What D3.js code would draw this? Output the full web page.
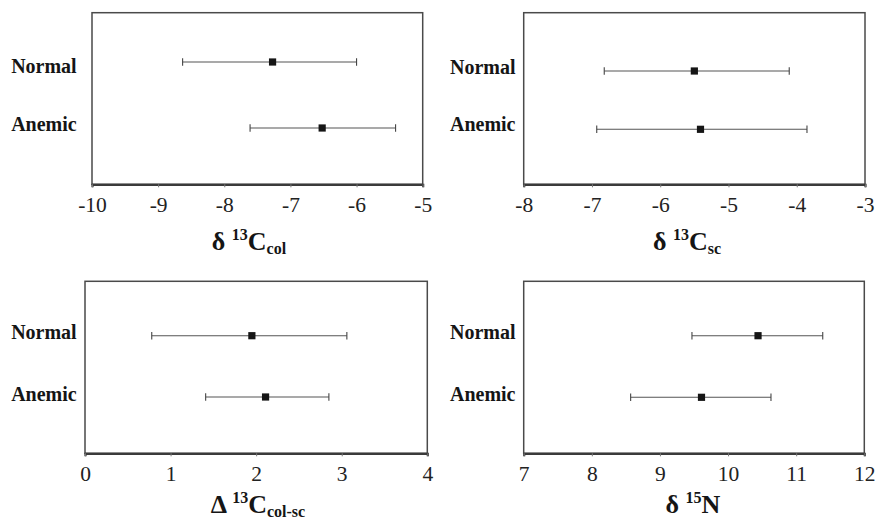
<!DOCTYPE html>
<html>
<head>
<meta charset="utf-8">
<script src="https://cdn.jsdelivr.net/npm/d3@7"></script>
<style>
	body { margin: 0; background: #fff; }
</style>
</head>
<body>
<div id="chart"></div>
<script>
(function () {

	'use strict';

	var serif = 'Liberation Serif';

	// data: mean and range for each group
	var categories = ['Normal', 'Anemic'];

	var col13Mean = [-7.27, -6.52];
	var col13Low = [-8.63, -7.61];
	var col13High = [-6.00, -5.41];
	var col13Ticks = [-10, -9, -8, -7, -6, -5];

	var sc13Mean = [-5.50, -5.41];
	var sc13Low = [-6.82, -6.93];
	var sc13High = [-4.11, -3.85];
	var sc13Ticks = [-8, -7, -6, -5, -4, -3];

	var diffMean = [1.95, 2.11];
	var diffLow = [0.78, 1.41];
	var diffHigh = [3.06, 2.85];
	var diffTicks = [0, 1, 2, 3, 4];

	var n15Mean = [10.44, 9.61];
	var n15Low = [9.47, 8.57];
	var n15High = [11.39, 10.63];
	var n15Ticks = [7, 8, 9, 10, 11, 12];

	// panel layout (pixels)
	var panels = [
		{ mean: col13Mean, low: col13Low, high: col13High, ticks: col13Ticks,
			left: 92, right: 422.7, top: 12.7, bottom: 184.3, marks: [62, 128], labels: [73.3, 130.7],
			labelX: 76.7, titleX: 249, titleY: 250, sym: 'δ', iso: '13', el: 'C', sub: 'col' },
		{ mean: sc13Mean, low: sc13Low, high: sc13High, ticks: sc13Ticks,
			left: 523.7, right: 865, top: 12.7, bottom: 184.3, marks: [71, 129.3], labels: [74, 131.3],
			labelX: 515.5, titleX: 687, titleY: 250, sym: 'δ', iso: '13', el: 'C', sub: 'sc' },
		{ mean: diffMean, low: diffLow, high: diffHigh, ticks: diffTicks,
			left: 85, right: 427.3, top: 281.3, bottom: 453.3, marks: [335.7, 397], labels: [339.3, 400.7],
			labelX: 76.7, titleX: 258, titleY: 513, sym: 'Δ', iso: '13', el: 'C', sub: 'col-sc' },
		{ mean: n15Mean, low: n15Low, high: n15High, ticks: n15Ticks,
			left: 523.7, right: 864.3, top: 281.3, bottom: 453.3, marks: [335.7, 397.3], labels: [339.3, 400.7],
			labelX: 515.5, titleX: 693, titleY: 513, sym: 'δ', iso: '15', el: 'N', sub: '' }
	];

	var svg = d3.select('#chart')
		.append('svg')
		.attr('width', 877)
		.attr('height', 520)
		.attr('font-family', serif);

	panels.forEach(drawPanel);

	function drawPanel(p) {
		var x = d3.scaleLinear()
			.domain(d3.extent(p.ticks))
			.range([p.left, p.right]);

		var y = d3.scalePoint()
			.domain(categories)
			.range(p.marks);

		var labelY = d3.scalePoint()
			.domain(categories)
			.range(p.labels);

		var g = svg.append('g');

		// frame
		g.append('rect')
			.attr('x', p.left)
			.attr('y', p.top)
			.attr('width', p.right - p.left)
			.attr('height', p.bottom - p.top)
			.attr('fill', 'none')
			.attr('stroke', '#4a4a4a')
			.attr('stroke-width', 1.5);

		// bottom axis, plain hyphen minus like the original
		var axis = g.append('g')
			.attr('transform', 'translate(0,' + p.bottom + ')')
			.call(d3.axisBottom(x)
				.tickValues(p.ticks)
				.tickSize(3)
				.tickPadding(10)
				.tickFormat(function (d) { return String(d); }));

		axis.attr('font-family', serif);
		axis.select('.domain')
			.attr('stroke', '#3a3a3a')
			.attr('stroke-width', 2.2);
		axis.selectAll('.tick line')
			.attr('stroke', '#777');
		axis.selectAll('.tick text')
			.attr('font-family', serif)
			.attr('font-size', 21.5)
			.attr('fill', '#222')
			.attr('dy', 0)
			.attr('y', 27.5);

		// group labels
		g.selectAll('.label')
			.data(categories)
			.enter().append('text')
			.attr('class', 'label')
			.attr('x', p.labelX)
			.attr('y', function (d) { return labelY(d); })
			.attr('text-anchor', 'end')
			.attr('font-family', serif)
			.attr('font-size', 20)
			.attr('font-weight', 'bold')
			.attr('fill', '#151515')
			.text(function (d) { return d; });

		var rows = categories.map(function (c, i) {
			return { cat: c, mean: p.mean[i], low: p.low[i], high: p.high[i] };
		});

		var bars = g.selectAll('.bar')
			.data(rows)
			.enter().append('g')
			.attr('class', 'bar');

		bars.append('line')
			.attr('x1', function (d) { return x(d.low); })
			.attr('x2', function (d) { return x(d.high); })
			.attr('y1', function (d) { return y(d.cat); })
			.attr('y2', function (d) { return y(d.cat); })
			.attr('stroke', '#555')
			.attr('stroke-width', 1.1);

		['low', 'high'].forEach(function (k) {
			bars.append('line')
				.attr('x1', function (d) { return x(d[k]); })
				.attr('x2', function (d) { return x(d[k]); })
				.attr('y1', function (d) { return y(d.cat) - 3.8; })
				.attr('y2', function (d) { return y(d.cat) + 3.8; })
				.attr('stroke', '#444')
				.attr('stroke-width', 1.1);
		});

		bars.append('rect')
			.attr('x', function (d) { return x(d.mean) - 3.6; })
			.attr('y', function (d) { return y(d.cat) - 3.6; })
			.attr('width', 7.2)
			.attr('height', 7.2)
			.attr('fill', '#151515');

		// axis title with super- and subscript
		var t = g.append('text')
			.attr('x', p.titleX)
			.attr('y', p.titleY)
			.attr('text-anchor', 'middle')
			.attr('font-family', serif)
			.attr('font-weight', 'bold')
			.attr('font-size', 26)
			.attr('fill', '#151515');

		t.append('tspan').text(p.sym + ' ');
		t.append('tspan').attr('font-size', 16).attr('dy', -10).text(p.iso);
		t.append('tspan').attr('dy', 10).text(p.el);
		if (p.sub) {
			t.append('tspan').attr('font-size', 16).attr('dy', 4).text(p.sub);
		}
	}

})();
</script>
</body>
</html>
